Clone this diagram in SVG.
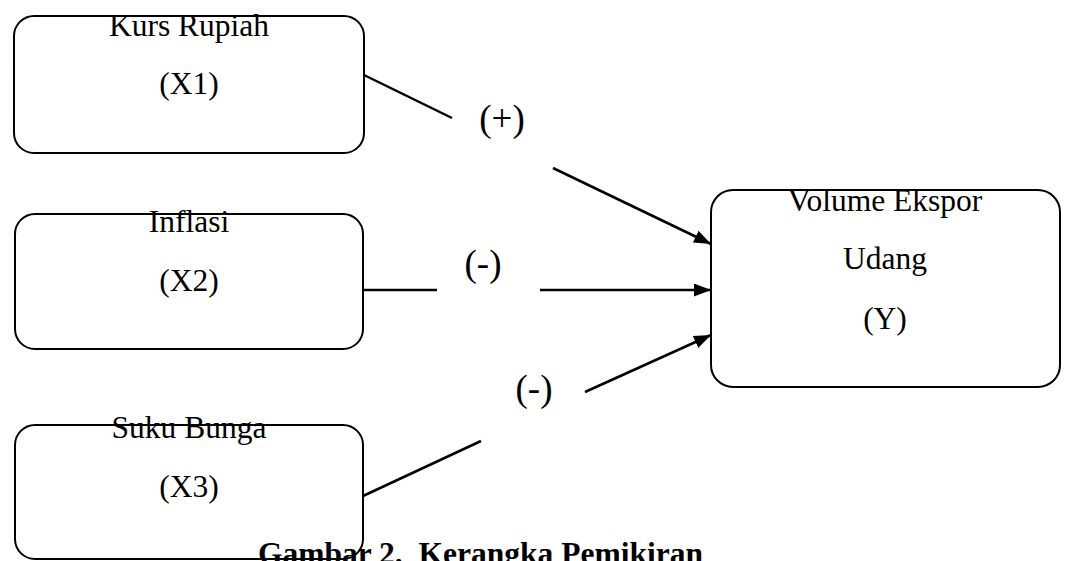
<svg xmlns="http://www.w3.org/2000/svg" width="1068" height="561" viewBox="0 0 1068 561">
<defs>
<style>
.box{fill:#fff;stroke:#000;stroke-width:2}
.t{font-family:"Liberation Serif","Times New Roman",serif;font-size:31.5px;fill:#000;text-anchor:middle}
.lbl{font-family:"Liberation Serif","Times New Roman",serif;font-size:37px;fill:#000;text-anchor:middle}
.cap{font-family:"Liberation Serif","Times New Roman",serif;font-size:31px;font-weight:bold;fill:#000}
.ln{stroke:#000;stroke-width:2.5;fill:none}
</style>
<marker id="ah" markerUnits="userSpaceOnUse" markerWidth="18" markerHeight="14" refX="17" refY="6.5" orient="auto">
<path d="M0,0 L17,6.5 L0,13 z" fill="#000"/>
</marker>
</defs>
<rect width="1068" height="561" fill="#fff"/>
<g id="connectors">
<line class="ln" x1="364" y1="75" x2="452" y2="118"/>
<line class="ln" x1="553" y1="168" x2="711" y2="244" marker-end="url(#ah)"/>
<line class="ln" x1="364" y1="290" x2="437" y2="290"/>
<line class="ln" x1="540" y1="290" x2="711" y2="290" marker-end="url(#ah)"/>
<line class="ln" x1="363" y1="496" x2="481" y2="441"/>
<line class="ln" x1="585" y1="392" x2="711" y2="335" marker-end="url(#ah)"/>
<text class="lbl" x="502" y="131">(+)</text>
<text class="lbl" x="483" y="276">(-)</text>
<text class="lbl" x="534" y="401">(-)</text>
</g>
<g id="x1">
<rect class="box" x="14" y="16" width="350" height="137" rx="20"/>
<text class="t" x="189" y="36">Kurs Rupiah</text>
<text class="t" x="189" y="94">(X1)</text>
</g>
<g id="x2">
<rect class="box" x="15" y="214" width="348" height="135" rx="20"/>
<text class="t" x="189" y="232">Inflasi</text>
<text class="t" x="189" y="291">(X2)</text>
</g>
<g id="x3">
<rect class="box" x="15" y="425" width="348" height="134" rx="20"/>
<text class="t" x="189" y="438">Suku Bunga</text>
<text class="t" x="189" y="497">(X3)</text>
</g>
<g id="y">
<rect class="box" x="711" y="190" width="349" height="197" rx="22"/>
<text class="t" x="885" y="211">Volume Ekspor</text>
<text class="t" x="885" y="269">Udang</text>
<text class="t" x="885" y="329">(Y)</text>
</g>
<text class="cap" x="258" y="564" textLength="445" lengthAdjust="spacingAndGlyphs" xml:space="preserve">Gambar 2.  Kerangka Pemikiran</text>
</svg>
